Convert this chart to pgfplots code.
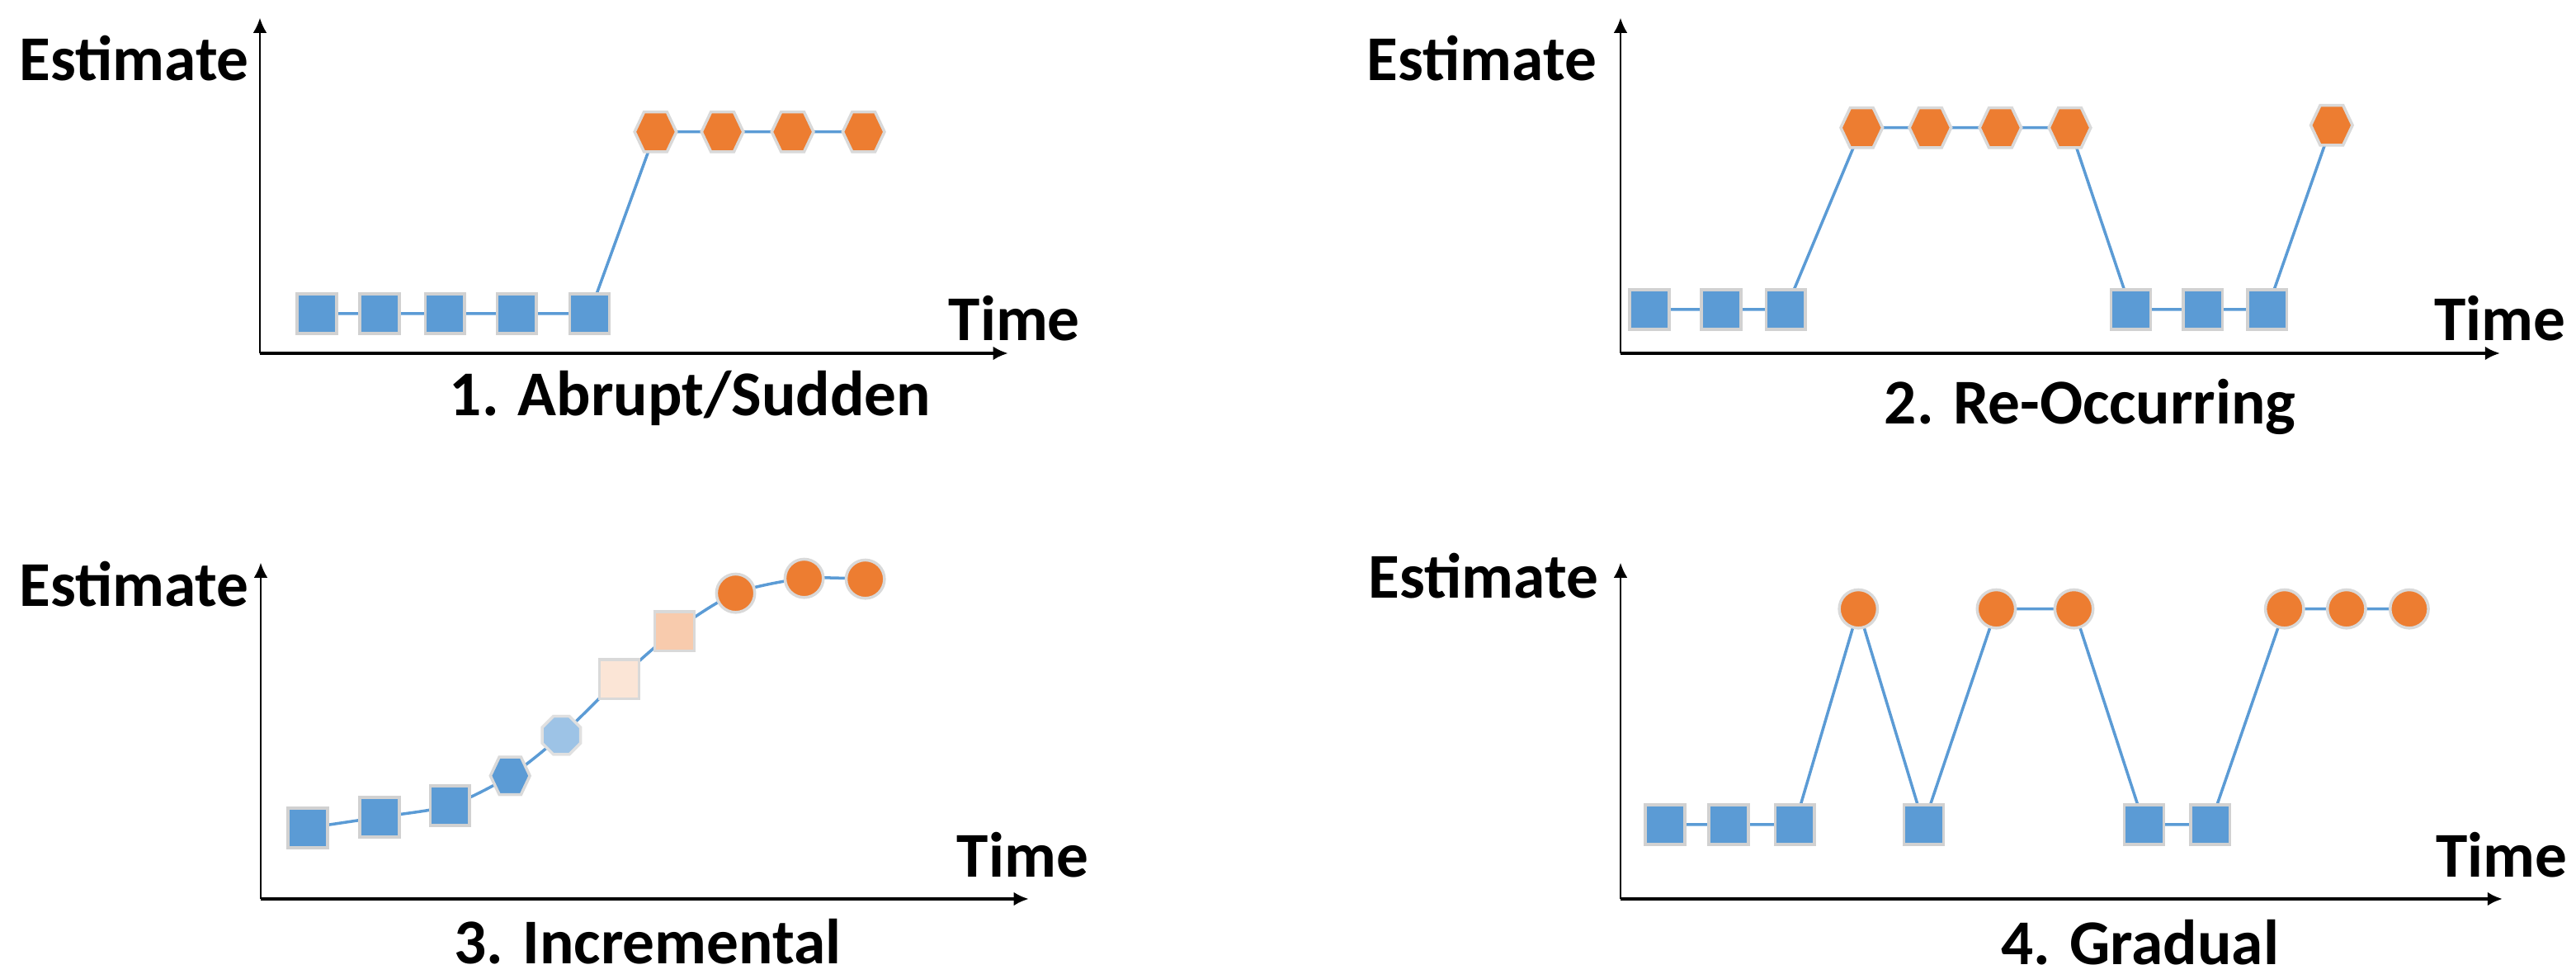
\documentclass[border=0pt]{standalone}
\usepackage{pgfplots}
\pgfplotsset{compat=1.18}
\usepackage{fontspec}
\setmainfont{Carlito}
\usetikzlibrary{arrows.meta}

\definecolor{cblue}{HTML}{5B9BD5}
\definecolor{corange}{HTML}{ED7D31}
\definecolor{clblue}{HTML}{9DC3E6}
\definecolor{cpeach}{HTML}{F8CBAD}
\definecolor{clpeach}{HTML}{FBE5D6}

\pgfdeclareplotmark{hexa}{%
  \pgfpathmoveto{\pgfpoint{\pgfplotmarksize}{0pt}}%
  \pgfpathlineto{\pgfpoint{0.55\pgfplotmarksize}{0.95\pgfplotmarksize}}%
  \pgfpathlineto{\pgfpoint{-0.55\pgfplotmarksize}{0.95\pgfplotmarksize}}%
  \pgfpathlineto{\pgfpoint{-\pgfplotmarksize}{0pt}}%
  \pgfpathlineto{\pgfpoint{-0.55\pgfplotmarksize}{-0.95\pgfplotmarksize}}%
  \pgfpathlineto{\pgfpoint{0.55\pgfplotmarksize}{-0.95\pgfplotmarksize}}%
  \pgfpathclose
  \pgfusepathqfillstroke}
\pgfdeclareplotmark{octa}{%
  \pgfpathmoveto{\pgfpointpolar{22.5}{1.05\pgfplotmarksize}}%
  \pgfpathlineto{\pgfpointpolar{67.5}{1.05\pgfplotmarksize}}%
  \pgfpathlineto{\pgfpointpolar{112.5}{1.05\pgfplotmarksize}}%
  \pgfpathlineto{\pgfpointpolar{157.5}{1.05\pgfplotmarksize}}%
  \pgfpathlineto{\pgfpointpolar{202.5}{1.05\pgfplotmarksize}}%
  \pgfpathlineto{\pgfpointpolar{247.5}{1.05\pgfplotmarksize}}%
  \pgfpathlineto{\pgfpointpolar{292.5}{1.05\pgfplotmarksize}}%
  \pgfpathlineto{\pgfpointpolar{337.5}{1.05\pgfplotmarksize}}%
  \pgfpathclose
  \pgfusepathqfillstroke}
\pgfdeclareplotmark{rsq}{%
  \pgfscope
  \pgfsetcornersarced{\pgfpoint{0.4\pgfplotmarksize}{0.4\pgfplotmarksize}}%
  \pgfpathmoveto{\pgfpoint{0pt}{-\pgfplotmarksize}}%
  \pgfpathlineto{\pgfpoint{\pgfplotmarksize}{-\pgfplotmarksize}}%
  \pgfpathlineto{\pgfpoint{\pgfplotmarksize}{\pgfplotmarksize}}%
  \pgfpathlineto{\pgfpoint{-\pgfplotmarksize}{\pgfplotmarksize}}%
  \pgfpathlineto{\pgfpoint{-\pgfplotmarksize}{-\pgfplotmarksize}}%
  \pgfpathclose
  \pgfusepathqfillstroke
  \endpgfscope}
\pgfdeclareplotmark{rsqb}{%
  \pgfscope
  \pgfsetcornersarced{\pgfpoint{0.7\pgfplotmarksize}{0.7\pgfplotmarksize}}%
  \pgfpathmoveto{\pgfpoint{0pt}{-\pgfplotmarksize}}%
  \pgfpathlineto{\pgfpoint{\pgfplotmarksize}{-\pgfplotmarksize}}%
  \pgfpathlineto{\pgfpoint{\pgfplotmarksize}{\pgfplotmarksize}}%
  \pgfpathlineto{\pgfpoint{-\pgfplotmarksize}{\pgfplotmarksize}}%
  \pgfpathlineto{\pgfpoint{-\pgfplotmarksize}{-\pgfplotmarksize}}%
  \pgfpathclose
  \pgfusepathqfillstroke
  \endpgfscope}

\newcommand{\lblfont}{\bfseries\fontsize{11}{13}\selectfont}

\pgfplotsset{
  panel/.style={
    axis lines=left,
    x=0.005cm, y=0.005cm,
    xmin=0, ymin=0,
    enlargelimits=false,
    xtick=\empty, ytick=\empty,
    clip=false,
    anchor=south west,
    x axis line style={line width=0.6pt, -{Latex[length=2.6pt,width=2.4pt]}},
    y axis line style={line width=0.4pt, -{Latex[length=2.6pt,width=2.4pt]}},
    label style={font=\lblfont, inner sep=0pt},
    xlabel={Time}, ylabel={Estimate},
  },
  conn/.style={color=cblue, line width=0.5pt, no marks},
  sqm/.style={only marks, mark=square*, mark size=3.4pt,
    mark options={fill=cblue, draw=black!18, line width=0.5pt}},
  hexm/.style={only marks, mark=hexa, mark size=3.6pt,
    mark options={fill=corange, draw=black!15, line width=0.5pt}},
  cirm/.style={only marks, mark=*, mark size=3.3pt,
    mark options={fill=corange, draw=black!15, line width=0.5pt}},
}
\tikzset{ttl/.style={font=\lblfont, anchor=base, inner sep=0pt}}

\begin{document}
\begin{tikzpicture}
\path[use as bounding box] (0,0) rectangle (15.61cm,-5.93cm);

% Panel 1
\begin{axis}[panel, at={(1.575cm,-2.14cm)}, xmax=906, ymax=406,
  xlabel style={at={(axis description cs:0.919,0.037)}, anchor=base west},
  ylabel style={rotate=-90, at={(axis description cs:-0.013,0.813)}, anchor=base east}]
\addplot[conn] coordinates {(69,48) (145,48) (224,48) (311,48) (399,48) (479,268) (560,268) (645,268) (731,268)};
\addplot[sqm] coordinates {(69,48) (145,48) (224,48) (311,48) (399,48)};
\addplot[hexm] coordinates {(479,268) (560,268) (645,268) (731,268)};
\node[ttl] at (axis description cs:0.575,-0.187) {1. Abrupt/Sudden};
\end{axis}

% Panel 2
\begin{axis}[panel, at={(9.82cm,-2.14cm)}, xmax=1065, ymax=406,
  xlabel style={at={(axis description cs:0.924,0.037)}, anchor=base west},
  ylabel style={rotate=-90, at={(axis description cs:-0.026,0.813)}, anchor=base east}]
\addplot[conn] coordinates {(35,53) (122,53) (200,53) (292,273) (375,273) (460,273) (544,273) (618,53) (705,53) (783,53) (861,276)};
\addplot[sqm] coordinates {(35,53) (122,53) (200,53) (618,53) (705,53) (783,53)};
\addplot[hexm] coordinates {(292,273) (375,273) (460,273) (544,273) (861,276)};
\node[ttl] at (axis description cs:0.534,-0.21) {2. Re-Occurring};
\end{axis}

% Panel 3
\begin{axis}[panel, at={(1.58cm,-5.445cm)}, xmax=930, ymax=407,
  xlabel style={at={(axis description cs:0.905,0.064)}, anchor=base west},
  ylabel style={rotate=-90, at={(axis description cs:-0.014,0.870)}, anchor=base east}]
\addplot[conn, smooth, tension=0.45] coordinates {(57,86) (144,99) (229,113) (302,149) (364,198) (434,266) (501,324) (575,370) (658,388) (732,387)};
\addplot[sqm] coordinates {(57,86) (144,99) (229,113)};
\addplot[only marks, mark=hexa, mark size=3.4pt,
  mark options={fill=cblue, draw=black!15, line width=0.5pt}] coordinates {(302,149)};
\addplot[only marks, mark=octa, mark size=3.4pt,
  mark options={fill=clblue, draw=black!12, line width=0.5pt}] coordinates {(364,198)};
\addplot[only marks, mark=rsq, mark size=3.4pt,
  mark options={fill=clpeach, draw=black!15, line width=0.5pt}] coordinates {(434,266)};
\addplot[only marks, mark=rsqb, mark size=3.4pt,
  mark options={fill=cpeach, draw=black!15, line width=0.5pt}] coordinates {(501,324)};
\addplot[cirm] coordinates {(575,370) (658,388) (732,387)};
\node[ttl] at (axis description cs:0.504,-0.192) {3. Incremental};
\end{axis}

% Panel 4
\begin{axis}[panel, at={(9.82cm,-5.445cm)}, xmax=1068, ymax=407,
  xlabel style={at={(axis description cs:0.923,0.064)}, anchor=base west},
  ylabel style={rotate=-90, at={(axis description cs:-0.024,0.894)}, anchor=base east}]
\addplot[conn] coordinates {(54,90) (131,90) (211,90) (288,351) (367,90) (455,351) (549,351) (634,90) (714,90) (804,351) (879,351) (955,351)};
\addplot[sqm] coordinates {(54,90) (131,90) (211,90) (367,90) (634,90) (714,90)};
\addplot[cirm] coordinates {(288,351) (455,351) (549,351) (804,351) (879,351) (955,351)};
\node[ttl] at (axis description cs:0.589,-0.194) {4. Gradual};
\end{axis}
\end{tikzpicture}
\end{document}
